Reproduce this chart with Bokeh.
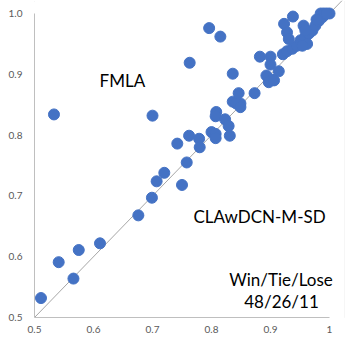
from bokeh.plotting import figure
from bokeh.models import Range1d, FixedTicker, Slope, Label
from bokeh.embed import file_html
from bokeh.resources import INLINE

# accuracy pairs (x: CLAwDCN-M-SD, y: FMLA)
x_acc = [0.511, 0.541, 0.566, 0.575, 0.611, 0.533, 0.676, 0.699, 0.707, 0.720,
         0.750, 0.758, 0.742, 0.762, 0.779, 0.780, 0.700, 0.800, 0.807, 0.807,
         0.808, 0.807, 0.823, 0.829, 0.831, 0.836, 0.849, 0.842, 0.849, 0.846,
         0.873, 0.836, 0.763, 0.796, 0.815, 0.882, 0.900, 0.900, 0.914, 0.893,
         0.903, 0.897, 0.906, 0.921, 0.928, 0.937, 0.945, 0.951, 0.959, 0.965,
         0.971, 0.976, 0.982, 0.988, 0.993, 1.000, 0.985, 0.990, 0.995, 0.923,
         0.938, 0.928, 0.931, 0.956, 0.959, 0.962, 0.954, 0.978]
y_acc = [0.532, 0.591, 0.564, 0.611, 0.622, 0.834, 0.668, 0.697, 0.724, 0.738,
         0.718, 0.755, 0.786, 0.799, 0.794, 0.780, 0.832, 0.805, 0.802, 0.795,
         0.838, 0.831, 0.826, 0.815, 0.799, 0.855, 0.852, 0.852, 0.846, 0.869,
         0.869, 0.901, 0.919, 0.976, 0.962, 0.929, 0.929, 0.916, 0.905, 0.898,
         0.891, 0.887, 0.890, 0.933, 0.938, 0.942, 0.947, 0.956, 0.961, 0.967,
         0.972, 0.980, 0.988, 0.994, 0.999, 1.000, 1.000, 1.000, 1.000, 0.983,
         0.995, 0.969, 0.958, 0.980, 0.972, 0.950, 0.947, 0.990]

ticks = [0.5, 0.6, 0.7, 0.8, 0.9, 1.0]
x_tick_labels = ["0.5", "0.6", "0.7", "0.8", "0.9", "1"]
y_tick_labels = ["0.5", "0.6", "0.7", "0.8", "0.9", "1.0"]

p = figure(width=346, height=346, output_backend="svg", toolbar_location=None,
           x_range=Range1d(0.5, 1.0254), y_range=Range1d(0.5, 1.0214),
           min_border_left=34, min_border_right=2, min_border_top=0, min_border_bottom=29)
p.outline_line_color = None
p.xgrid.visible = False
p.ygrid.visible = False
p.background_fill_color = "white"
p.border_fill_color = "white"
p.styles = {"outline": "1px solid #D9D9D9", "outline-offset": "-2px"}

diag = Slope(gradient=1, y_intercept=0, line_color="#A6A6A6", line_width=1, level="underlay")
p.add_layout(diag)

p.scatter(x_acc, y_acc, size=11, fill_color="#4472C4", line_color="#4472C4")

for ax, labels in ((p.xaxis[0], x_tick_labels), (p.yaxis[0], y_tick_labels)):
    ax.ticker = FixedTicker(ticks=ticks)
    ax.bounds = (0.5, 1.0)
    ax.major_label_overrides = {t: s for t, s in zip(ticks, labels)}
    ax.major_tick_line_color = None
    ax.minor_tick_line_color = None
    ax.major_tick_out = 0
    ax.major_tick_in = 0
    ax.axis_line_color = "#BFBFBF"
    ax.axis_line_width = 1
    ax.major_label_text_color = "#595959"
    ax.major_label_text_font = "Lato"
    ax.major_label_text_font_size = "10px"
p.yaxis[0].major_label_standoff = 12
p.xaxis[0].major_label_standoff = 8

def add_text(x, y, t):
    p.add_layout(Label(x=x, y=y, text=t, text_align="center", text_baseline="middle",
                       text_font="Lato", text_font_size="17px", text_color="black"))

add_text(0.649, 0.8898, "FMLA")
add_text(0.8814, 0.666, "CLAwDCN-M-SD")
add_text(0.9178, 0.5625, "Win/Tie/Lose")
add_text(0.9186, 0.5263, "48/26/11")

open("out.html", "w").write(file_html(p, INLINE))
